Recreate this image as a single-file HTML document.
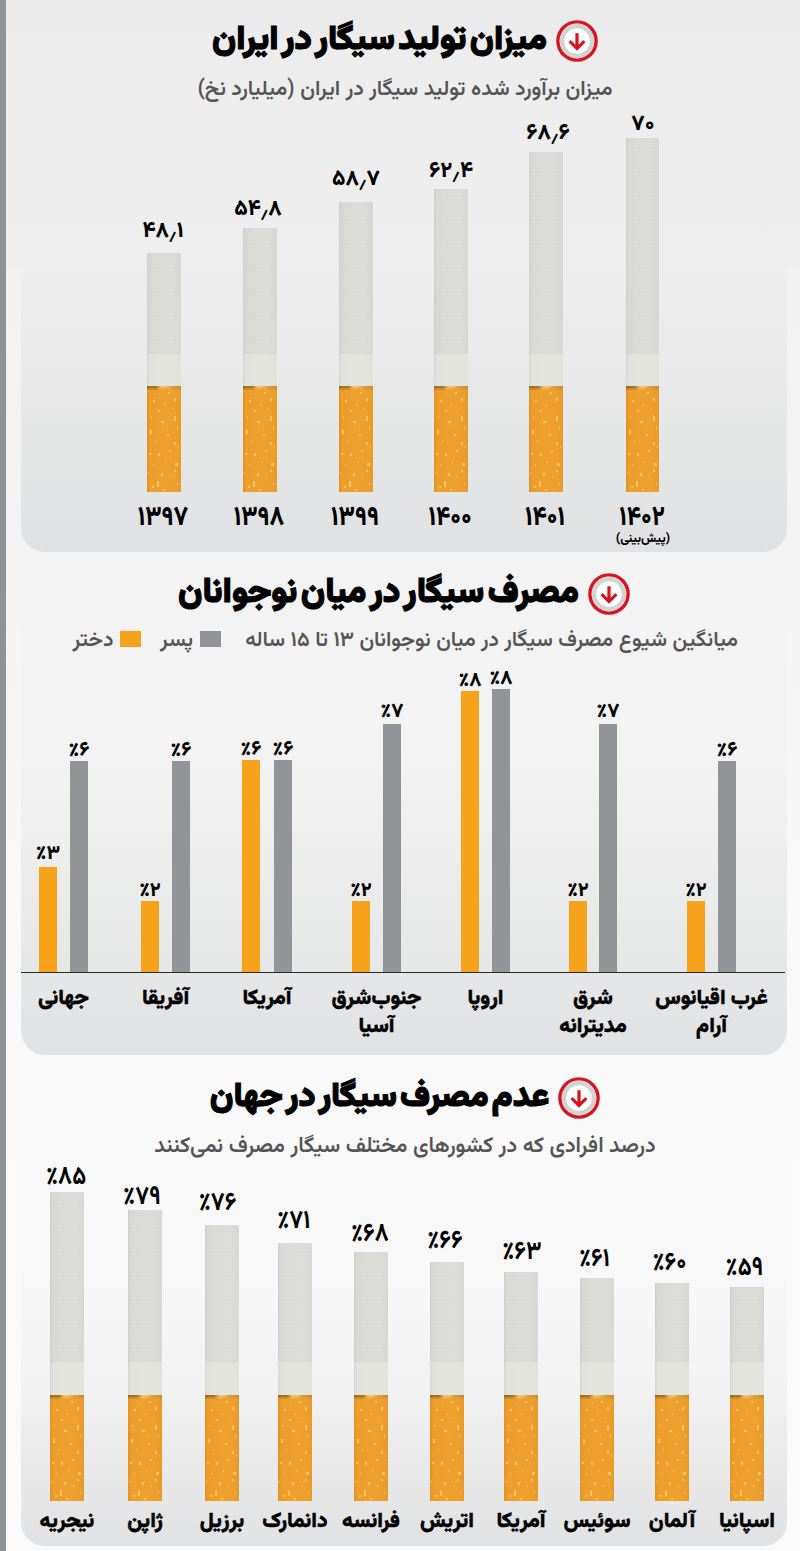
<!DOCTYPE html>
<html lang="fa" dir="rtl">
<head>
<meta charset="utf-8">
<title>سیگار در ایران و جهان</title>
<style>
*{margin:0;padding:0;box-sizing:border-box}
html,body{width:800px;height:1551px;overflow:hidden}
body{position:relative;background:linear-gradient(#ebebeb 0,#ebebeb 33px,#ededed 34px,#eeeeee 269px,#f2f2f2 269px,#f3f3f3 560px,#f6f6f6 700px,#f8f8f8 900px,#f9f9f9 1060px,#fafafa 1551px);font-family:"Vazirmatn", "DejaVu Sans", "Liberation Sans", sans-serif;color:#000}
.strip{position:absolute;left:0;top:0;width:6px;height:1551px;background:#8f9398}
.card{position:absolute;left:21px;width:766px;border-radius:0 0 24px 24px}
.c1{top:0;height:552px;background:linear-gradient(#ebebeb 0,#ebebeb 33px,#ededed 34px,#eeeeee 269px,#e0e1e2 552px)}
.c2{top:556px;height:499px;background:linear-gradient(#f3f3f3 0,#f3f3f3 200px,#e1e2e3 498px)}
.c3{top:1058px;height:488px;background:linear-gradient(#f9f9f9 0,#f8f8f8 220px,#f1f1f1 340px,#e8e8e9 420px,#e1e2e3 488px)}
.ttl{position:absolute;left:5px;width:800px;text-align:center;font-weight:900;font-size:34.2px;line-height:42px;white-space:nowrap;word-spacing:-5px;-webkit-text-stroke:1.1px #000}
.ttl .ic{display:inline-block;vertical-align:top;margin-left:9px}
.sub{position:absolute;left:5px;width:800px;text-align:center;font-weight:580;font-size:21.3px;line-height:30px;color:#555;white-space:nowrap}
.cig{position:absolute;overflow:hidden}
.pp{background:repeating-linear-gradient(0deg,rgba(255,255,255,.06) 0 1px,rgba(0,0,0,0) 1px 3px),linear-gradient(90deg,#cbcbc8 0,#d6d6d3 6%,#dadad7 30%,#dbdbd8 75%,#d6d6d3 100%)}
.bd{background:linear-gradient(90deg,#d6d6d0 0,#e3e3dd 8%,#e5e5df 50%,#e3e3dd 100%)}
.fl{position:relative;background:linear-gradient(90deg,rgba(125,95,30,.75) 0,rgba(135,100,35,.7) 27%,rgba(240,205,130,.7) 42%,rgba(245,215,150,.6) 55%,rgba(205,160,70,.55) 72%,rgba(170,130,50,.6) 100%) 0 0/100% 2px no-repeat,linear-gradient(90deg,rgba(150,115,40,.45) 0,rgba(150,115,40,.4) 27%,rgba(240,205,130,.4) 42%,rgba(200,155,70,.3) 72%,rgba(170,130,50,.35) 100%) 0 2px/100% 2px no-repeat,linear-gradient(90deg,#df9328 0,#ec9d2c 10%,#efa12f 50%,#ee9f2d 85%,#e59a2a 100%)}
.fl i{position:absolute;left:0;top:0;width:1px;height:1px;box-shadow:27px 12px 0 0 rgba(251,206,112,.75),28px 12px 0 0 rgba(251,206,112,.75),27px 13px 0 0 rgba(251,206,112,.75),28px 13px 0 0 rgba(251,206,112,.75),27px 14px 0 0 rgba(251,206,112,.75),28px 14px 0 0 rgba(251,206,112,.75),11px 24px 0 0 rgba(251,206,112,.75),12px 24px 0 0 rgba(251,206,112,.75),11px 25px 0 0 rgba(251,206,112,.75),12px 25px 0 0 rgba(251,206,112,.75),27px 30px 0 0 rgba(251,206,112,.75),28px 30px 0 0 rgba(251,206,112,.75),27px 31px 0 0 rgba(251,206,112,.75),28px 31px 0 0 rgba(251,206,112,.75),27px 32px 0 0 rgba(251,206,112,.75),28px 32px 0 0 rgba(251,206,112,.75),27px 33px 0 0 rgba(251,206,112,.75),28px 33px 0 0 rgba(251,206,112,.75),27px 34px 0 0 rgba(251,206,112,.75),28px 34px 0 0 rgba(251,206,112,.75),14px 35px 0 0 rgba(251,206,112,.75),15px 35px 0 0 rgba(251,206,112,.75),16px 35px 0 0 rgba(251,206,112,.75),14px 36px 0 0 rgba(251,206,112,.75),15px 36px 0 0 rgba(251,206,112,.75),16px 36px 0 0 rgba(251,206,112,.75),3px 44px 0 0 rgba(251,206,112,.75),4px 44px 0 0 rgba(251,206,112,.75),3px 45px 0 0 rgba(251,206,112,.75),4px 45px 0 0 rgba(251,206,112,.75),3px 46px 0 0 rgba(251,206,112,.75),4px 46px 0 0 rgba(251,206,112,.75),3px 47px 0 0 rgba(251,206,112,.75),4px 47px 0 0 rgba(251,206,112,.75),20px 48px 0 0 rgba(251,206,112,.75),21px 48px 0 0 rgba(251,206,112,.75),20px 49px 0 0 rgba(251,206,112,.75),21px 49px 0 0 rgba(251,206,112,.75),27px 56px 0 0 rgba(251,206,112,.75),28px 56px 0 0 rgba(251,206,112,.75),27px 57px 0 0 rgba(251,206,112,.75),28px 57px 0 0 rgba(251,206,112,.75),27px 58px 0 0 rgba(251,206,112,.75),28px 58px 0 0 rgba(251,206,112,.75),2px 67px 0 0 rgba(251,206,112,.75),3px 67px 0 0 rgba(251,206,112,.75),2px 68px 0 0 rgba(251,206,112,.75),3px 68px 0 0 rgba(251,206,112,.75),11px 67px 0 0 rgba(251,206,112,.75),12px 67px 0 0 rgba(251,206,112,.75),11px 68px 0 0 rgba(251,206,112,.75),12px 68px 0 0 rgba(251,206,112,.75),11px 69px 0 0 rgba(251,206,112,.75),12px 69px 0 0 rgba(251,206,112,.75),28px 77px 0 0 rgba(251,206,112,.75),29px 77px 0 0 rgba(251,206,112,.75),30px 77px 0 0 rgba(251,206,112,.75),28px 78px 0 0 rgba(251,206,112,.75),29px 78px 0 0 rgba(251,206,112,.75),30px 78px 0 0 rgba(251,206,112,.75),28px 79px 0 0 rgba(251,206,112,.75),29px 79px 0 0 rgba(251,206,112,.75),30px 79px 0 0 rgba(251,206,112,.75),27px 84px 0 0 rgba(251,206,112,.75),28px 84px 0 0 rgba(251,206,112,.75),27px 85px 0 0 rgba(251,206,112,.75),28px 85px 0 0 rgba(251,206,112,.75),14px 87px 0 0 rgba(251,206,112,.75),15px 87px 0 0 rgba(251,206,112,.75),14px 88px 0 0 rgba(251,206,112,.75),15px 88px 0 0 rgba(251,206,112,.75),14px 89px 0 0 rgba(251,206,112,.75),15px 89px 0 0 rgba(251,206,112,.75),10px 95px 0 0 rgba(251,206,112,.75),11px 95px 0 0 rgba(251,206,112,.75),10px 96px 0 0 rgba(251,206,112,.75),11px 96px 0 0 rgba(251,206,112,.75),10px 97px 0 0 rgba(251,206,112,.75),11px 97px 0 0 rgba(251,206,112,.75),10px 98px 0 0 rgba(251,206,112,.75),11px 98px 0 0 rgba(251,206,112,.75),10px 99px 0 0 rgba(251,206,112,.75),11px 99px 0 0 rgba(251,206,112,.75),10px 100px 0 0 rgba(251,206,112,.75),11px 100px 0 0 rgba(251,206,112,.75),1px 86px 0 0 rgba(251,206,112,.75),1px 87px 0 0 rgba(251,206,112,.75),16px 103px 0 0 rgba(251,206,112,.75),17px 103px 0 0 rgba(251,206,112,.75),16px 104px 0 0 rgba(251,206,112,.75),17px 104px 0 0 rgba(251,206,112,.75),21px 6px 0 0 rgba(251,206,112,.75),22px 6px 0 0 rgba(251,206,112,.75),21px 7px 0 0 rgba(251,206,112,.75),22px 7px 0 0 rgba(251,206,112,.75),6px 14px 0 0 rgba(251,206,112,.75),7px 14px 0 0 rgba(251,206,112,.75),6px 15px 0 0 rgba(251,206,112,.75),7px 15px 0 0 rgba(251,206,112,.75),22px 64px 0 0 rgba(251,206,112,.75),23px 64px 0 0 rgba(251,206,112,.75),22px 65px 0 0 rgba(251,206,112,.75),23px 65px 0 0 rgba(251,206,112,.75),5px 100px 0 0 rgba(251,206,112,.75),6px 100px 0 0 rgba(251,206,112,.75),5px 101px 0 0 rgba(251,206,112,.75),6px 101px 0 0 rgba(251,206,112,.75),17px 18px 0 0 rgba(251,206,112,.75),17px 19px 0 0 rgba(251,206,112,.75),30px 40px 0 0 rgba(251,206,112,.75),30px 41px 0 0 rgba(251,206,112,.75),30px 42px 0 0 rgba(251,206,112,.75),8px 54px 0 0 rgba(251,206,112,.75),8px 55px 0 0 rgba(251,206,112,.75),23px 90px 0 0 rgba(251,206,112,.75),23px 91px 0 0 rgba(251,206,112,.75),30px 97px 0 0 rgba(251,206,112,.75),30px 98px 0 0 rgba(251,206,112,.75),4px 30px 0 0 rgba(251,206,112,.75),4px 31px 0 0 rgba(251,206,112,.75),18px 75px 0 0 rgba(251,206,112,.75),18px 76px 0 0 rgba(251,206,112,.75),12px 8px 0 0 rgba(251,206,112,.75),25px 22px 0 0 rgba(251,206,112,.75),6px 78px 0 0 rgba(251,206,112,.75),6px 79px 0 0 rgba(251,206,112,.75),20px 40px 0 0 rgba(251,206,112,.75),31px 60px 0 0 rgba(251,206,112,.75),31px 61px 0 0 rgba(251,206,112,.75)}
.v1,.v3,.yr,.pre,.p2,.cn,.cn3{position:absolute;width:200px;text-align:center;white-space:nowrap}
.v1{font-weight:800;font-size:22px;line-height:30px}
.ds{font-size:17px;position:relative;top:1px}
.yr{font-weight:800;font-size:24px;line-height:30px;transform:scaleY(1.14)}
.pre{font-weight:800;font-size:12.5px;line-height:18px}
.v3{font-weight:700;font-size:23px;line-height:30px;transform:scaleY(1.12)}
.p2{font-weight:800;font-size:20px;line-height:26px}
.cn{font-weight:900;font-size:21px;line-height:28px;-webkit-text-stroke:0.35px #000}
.cn3{font-weight:900;font-size:21px;line-height:30px;-webkit-text-stroke:0.35px #000}
.bar{position:absolute;width:18px}
.bar.o{background:#f7a21b}
.bar.g{background:#929497}
.axis{position:absolute;left:21px;top:972px;width:764px;height:1px;background:#2a2a2a;z-index:2}
.lgrow{position:absolute;top:626px;right:62px;display:flex;align-items:flex-start;white-space:nowrap;font-weight:580;font-size:21.3px;line-height:30px;color:#555}
.lgrow i{display:block;width:21px;height:16px;margin-top:5px;flex:none}
</style>
</head>
<body>
<div class="strip"></div>
<div class="card c1"></div>
<div class="card c2"></div>
<div class="card c3"></div>

<div class="ttl" style="top:20px"><svg class="ic" width="42" height="42" viewBox="0 0 42 42"><circle cx="21" cy="21" r="19.1" fill="#fff" stroke="#d5151f" stroke-width="3.4"/><circle cx="21" cy="21" r="15.0" fill="none" stroke="#d3d3d3" stroke-width="4.4"/><path d="M21 13.2V28.2M13.6 21.2L21 28.6L28.4 21.2" fill="none" stroke="#d5151f" stroke-width="3.2" stroke-linejoin="miter"/></svg>میزان تولید سیگار در ایران</div>
<div class="sub" style="top:74.5px">میزان برآورد شده تولید سیگار در ایران (میلیارد نخ)</div>

<div class="ttl" style="top:573px;font-size:34.6px;left:4px"><svg class="ic" width="42" height="42" viewBox="0 0 42 42"><circle cx="21" cy="21" r="19.1" fill="#fff" stroke="#d5151f" stroke-width="3.4"/><circle cx="21" cy="21" r="15.0" fill="none" stroke="#d3d3d3" stroke-width="4.4"/><path d="M21 13.2V28.2M13.6 21.2L21 28.6L28.4 21.2" fill="none" stroke="#d5151f" stroke-width="3.2" stroke-linejoin="miter"/></svg>مصرف سیگار در میان نوجوانان</div>
<div class="lgrow"><span style="font-size:21.1px">میانگین شیوع مصرف سیگار در میان نوجوانان ۱۳ تا ۱۵ ساله</span><i style="background:#929497;margin-right:24px"></i><span style="margin-right:7px">پسر</span><i style="background:#f7a21b;margin-right:18.5px"></i><span style="margin-right:7px">دختر</span></div>
<div class="axis"></div>

<div class="ttl" style="top:1077px;font-size:33.6px"><svg class="ic" width="42" height="42" viewBox="0 0 42 42"><circle cx="21" cy="21" r="19.1" fill="#fff" stroke="#d5151f" stroke-width="3.4"/><circle cx="21" cy="21" r="15.0" fill="none" stroke="#d3d3d3" stroke-width="4.4"/><path d="M21 13.2V28.2M13.6 21.2L21 28.6L28.4 21.2" fill="none" stroke="#d5151f" stroke-width="3.2" stroke-linejoin="miter"/></svg>عدم مصرف سیگار در جهان</div>
<div class="sub" style="top:1132px;font-size:21.6px">درصد افرادی که در کشورهای مختلف سیگار مصرف نمی‌کنند</div>

<div class="cig" style="left:147px;top:253px;width:34px;height:239px"><div class="pp" style="height:101px"></div><div class="bd" style="height:32px"></div><div class="fl" style="height:106px"><i></i></div></div>
<div class="v1" style="left:63px;top:217px">۴۸<span class="ds">٫</span>۱</div>
<div class="yr" style="left:63px;top:503px">۱۳۹۷</div>
<div class="cig" style="left:243px;top:228px;width:34px;height:264px"><div class="pp" style="height:126px"></div><div class="bd" style="height:32px"></div><div class="fl" style="height:106px"><i></i></div></div>
<div class="v1" style="left:158px;top:194.5px">۵۴<span class="ds">٫</span>۸</div>
<div class="yr" style="left:159px;top:503px">۱۳۹۸</div>
<div class="cig" style="left:339px;top:202px;width:34px;height:290px"><div class="pp" style="height:152px"></div><div class="bd" style="height:32px"></div><div class="fl" style="height:106px"><i></i></div></div>
<div class="v1" style="left:256px;top:164.5px">۵۸<span class="ds">٫</span>۷</div>
<div class="yr" style="left:255px;top:503px">۱۳۹۹</div>
<div class="cig" style="left:434px;top:189px;width:34px;height:303px"><div class="pp" style="height:165px"></div><div class="bd" style="height:32px"></div><div class="fl" style="height:106px"><i></i></div></div>
<div class="v1" style="left:351px;top:157px">۶۲<span class="ds">٫</span>۴</div>
<div class="yr" style="left:350px;top:503px">۱۴۰۰</div>
<div class="cig" style="left:529px;top:152px;width:34px;height:340px"><div class="pp" style="height:202px"></div><div class="bd" style="height:32px"></div><div class="fl" style="height:106px"><i></i></div></div>
<div class="v1" style="left:448px;top:119px">۶۸<span class="ds">٫</span>۶</div>
<div class="yr" style="left:445px;top:503px">۱۴۰۱</div>
<div class="cig" style="left:626px;top:138px;width:33px;height:354px"><div class="pp" style="height:216px"></div><div class="bd" style="height:32px"></div><div class="fl" style="height:106px"><i></i></div></div>
<div class="v1" style="left:543px;top:110.4px">۷۰</div>
<div class="yr" style="left:542px;top:503px">۱۴۰۲</div>
<div class="pre" style="left:543px;top:530px">(پیش‌بینی)</div>
<div class="bar o" style="left:39px;top:867px;height:105px"></div>
<div class="bar g" style="left:70px;top:761px;height:211px"></div>
<div class="p2" style="left:-52px;top:841.3px">٪۳</div>
<div class="p2" style="left:-21px;top:738px">٪۶</div>
<div class="cn" style="left:-36.5px;top:985px">جهانی</div>
<div class="bar o" style="left:141px;top:901px;height:71px"></div>
<div class="bar g" style="left:172px;top:761px;height:211px"></div>
<div class="p2" style="left:50px;top:878px">٪۲</div>
<div class="p2" style="left:81px;top:738px">٪۶</div>
<div class="cn" style="left:65.5px;top:985px">آفریقا</div>
<div class="bar o" style="left:242px;top:760px;height:212px"></div>
<div class="bar g" style="left:274px;top:760px;height:212px"></div>
<div class="p2" style="left:151px;top:737px">٪۶</div>
<div class="p2" style="left:183px;top:737px">٪۶</div>
<div class="cn" style="left:167.0px;top:985px">آمریکا</div>
<div class="bar o" style="left:352px;top:901px;height:71px"></div>
<div class="bar g" style="left:383px;top:724px;height:248px"></div>
<div class="p2" style="left:261px;top:878px">٪۲</div>
<div class="p2" style="left:292px;top:698.8px">٪۷</div>
<div class="cn" style="left:276.5px;top:985px">جنوب‌شرق<br>آسیا</div>
<div class="bar o" style="left:461px;top:691px;height:281px"></div>
<div class="bar g" style="left:492px;top:689px;height:283px"></div>
<div class="p2" style="left:370px;top:668px">٪۸</div>
<div class="p2" style="left:401px;top:666px">٪۸</div>
<div class="cn" style="left:385.5px;top:985px">اروپا</div>
<div class="bar o" style="left:569px;top:901px;height:71px"></div>
<div class="bar g" style="left:599px;top:724px;height:248px"></div>
<div class="p2" style="left:478px;top:878px">٪۲</div>
<div class="p2" style="left:508px;top:698.8px">٪۷</div>
<div class="cn" style="left:493.0px;top:985px">شرق<br>مدیترانه</div>
<div class="bar o" style="left:687px;top:901px;height:71px"></div>
<div class="bar g" style="left:718px;top:761px;height:211px"></div>
<div class="p2" style="left:596px;top:878px">٪۲</div>
<div class="p2" style="left:627px;top:738px">٪۶</div>
<div class="cn" style="left:611.5px;top:985px">غرب اقیانوس<br>آرام</div>
<div class="cig" style="left:50px;top:1192px;width:34px;height:309px"><div class="pp" style="height:170px"></div><div class="bd" style="height:33px"></div><div class="fl" style="height:106px"><i></i></div></div>
<div class="v3" style="left:-33.900000000000006px;top:1161.6px">٪۸۵</div>
<div class="cn3" style="left:-33px;top:1506.5px">نیجریه</div>
<div class="cig" style="left:128px;top:1210px;width:34px;height:291px"><div class="pp" style="height:152px"></div><div class="bd" style="height:33px"></div><div class="fl" style="height:106px"><i></i></div></div>
<div class="v3" style="left:41.900000000000006px;top:1181.8px">٪۷۹</div>
<div class="cn3" style="left:45px;top:1506.5px">ژاپن</div>
<div class="cig" style="left:205px;top:1225px;width:34px;height:276px"><div class="pp" style="height:137px"></div><div class="bd" style="height:33px"></div><div class="fl" style="height:106px"><i></i></div></div>
<div class="v3" style="left:117.6px;top:1187.5px">٪۷۶</div>
<div class="cn3" style="left:122px;top:1506.5px">برزیل</div>
<div class="cig" style="left:278px;top:1243px;width:34px;height:258px"><div class="pp" style="height:119px"></div><div class="bd" style="height:33px"></div><div class="fl" style="height:106px"><i></i></div></div>
<div class="v3" style="left:193.8px;top:1205.5px">٪۷۱</div>
<div class="cn3" style="left:195px;top:1506.5px">دانمارک</div>
<div class="cig" style="left:354px;top:1252px;width:34px;height:249px"><div class="pp" style="height:110px"></div><div class="bd" style="height:33px"></div><div class="fl" style="height:106px"><i></i></div></div>
<div class="v3" style="left:269.8px;top:1219.2px">٪۶۸</div>
<div class="cn3" style="left:271px;top:1506.5px">فرانسه</div>
<div class="cig" style="left:430px;top:1262px;width:34px;height:239px"><div class="pp" style="height:100px"></div><div class="bd" style="height:33px"></div><div class="fl" style="height:106px"><i></i></div></div>
<div class="v3" style="left:344.9px;top:1225.5px">٪۶۶</div>
<div class="cn3" style="left:347px;top:1506.5px">اتریش</div>
<div class="cig" style="left:504px;top:1272px;width:34px;height:229px"><div class="pp" style="height:90px"></div><div class="bd" style="height:33px"></div><div class="fl" style="height:106px"><i></i></div></div>
<div class="v3" style="left:421.9px;top:1236.8px">٪۶۳</div>
<div class="cn3" style="left:421px;top:1506.5px">آمریکا</div>
<div class="cig" style="left:580px;top:1278px;width:34px;height:223px"><div class="pp" style="height:84px"></div><div class="bd" style="height:33px"></div><div class="fl" style="height:106px"><i></i></div></div>
<div class="v3" style="left:494.4px;top:1244.2px">٪۶۱</div>
<div class="cn3" style="left:497px;top:1506.5px">سوئیس</div>
<div class="cig" style="left:655px;top:1283px;width:34px;height:218px"><div class="pp" style="height:79px"></div><div class="bd" style="height:33px"></div><div class="fl" style="height:106px"><i></i></div></div>
<div class="v3" style="left:569.4px;top:1247.5px">٪۶۰</div>
<div class="cn3" style="left:572px;top:1506.5px">آلمان</div>
<div class="cig" style="left:730px;top:1287px;width:34px;height:214px"><div class="pp" style="height:75px"></div><div class="bd" style="height:33px"></div><div class="fl" style="height:106px"><i></i></div></div>
<div class="v3" style="left:644.4px;top:1252.5px">٪۵۹</div>
<div class="cn3" style="left:647px;top:1506.5px">اسپانیا</div>
</body>
</html>
